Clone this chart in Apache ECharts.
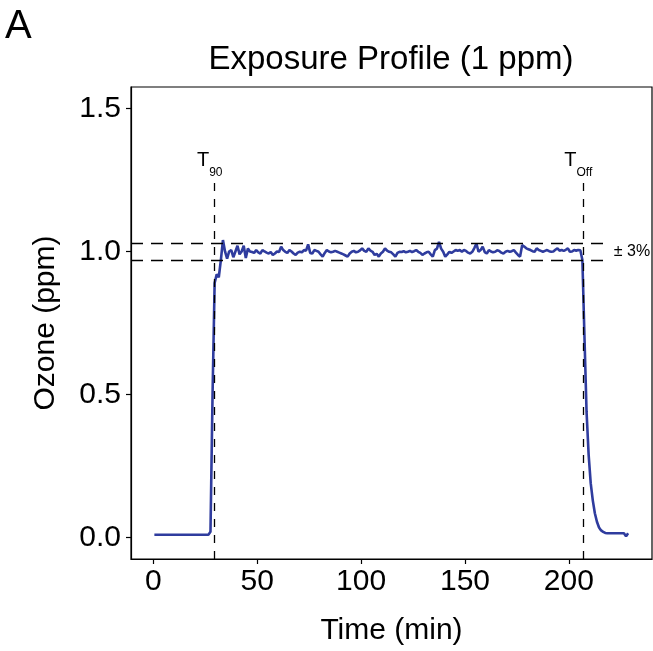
<!DOCTYPE html>
<html><head><meta charset="utf-8">
<script src="https://cdn.jsdelivr.net/npm/echarts@6/dist/echarts.min.js"></script>
<style>html,body{margin:0;padding:0;background:#fff}#chart{width:653px;height:651px}</style>
</head><body><div id="chart"></div>
<script>
const panelTitle = 'Exposure Profile (1 ppm)';
const panelTag = 'A';
const xAxisTitle = 'Time (min)';
const yAxisTitle = 'Ozone (ppm)';
const timeTicks = [0, 50, 100, 150, 200];
const ozoneTicks = [0, 0.5, 1.0, 1.5];
const timeRange = [-10.75, 240];
const ozoneRange = [-0.075, 1.575];
const sampleStartMin = 0.5;
const sampleStepMin = 1;
const ozonePpm = [
  0.01,0.01,0.01,0.01,0.01,0.01,0.01,0.01,0.01,0.01,
  0.01,0.01,0.01,0.01,0.01,0.01,0.01,0.01,0.01,0.01,
  0.01,0.01,0.01,0.01,0.01,0.01,0.01,
  0.02,0.50,0.89,
  0.92,0.91,0.97,1.04,1.00,0.975,1.00,1.005,0.98,1.00,
  1.02,0.99,1.00,1.02,0.977,1.01,1.00,0.998,0.995,1.005,
  0.997,0.993,1.005,1.00,0.996,0.993,0.998,0.988,0.993,1.00,
  0.998,1.017,1.005,0.999,0.995,1.005,1.00,0.993,0.988,0.996,
  0.999,0.997,1.005,1.003,1.025,0.995,0.993,1.005,1.002,0.999,
  0.99,0.982,0.995,1.005,1.00,0.997,0.999,1.002,0.999,0.996,
  0.993,0.99,0.986,0.982,0.993,0.999,1.002,0.997,0.999,1.004,
  1.011,1.002,0.999,1.011,1.003,0.999,0.988,0.992,0.982,0.993,
  0.999,1.011,1.003,0.999,0.997,0.99,0.982,0.995,0.999,0.998,
  1.001,0.997,0.999,1.002,0.998,1.001,1.005,0.999,0.995,0.988,
  0.993,0.997,0.999,0.99,0.982,1.005,1.01,1.034,1.01,0.999,
  0.982,0.99,0.999,0.995,1.00,1.005,1.002,1.005,0.999,1.005,
  1.002,0.996,0.993,0.999,1.012,1.028,0.999,1.005,1.017,0.998,
  0.993,1.005,1.00,0.997,0.999,1.004,1.002,0.996,0.993,0.999,
  1.002,0.999,1.001,1.005,0.996,0.988,0.982,1.022,1.017,1.011,
  1.008,1.005,1.001,0.999,1.011,1.005,1.002,0.999,1.002,1.005,
  1.001,0.999,1.000,1.006,1.011,1.003,1.005,1.002,1.006,1.011,
  0.999,1.000,1.005,1.003,1.005,1.004,0.97,0.70,0.44,0.29,
  0.19,0.13,0.085,0.055,0.035,0.025,0.02,0.016,0.015,0.015,
  0.015,0.015,0.015,0.015,0.015,0.015,0.015,0.004,0.015
];
const toleranceBand = [0.97, 1.03];
const toleranceLabel = '± 3%';
const toleranceLabelAt = [221.6, 1.001];
const bandEndMin = 218.6;
const markerTimes = [29.3, 206.7];
const markerSubs = ['90', 'Off'];
const markerTop = 1.245;
const markerLabelLevel = 1.305;

const FONT = "'Liberation Sans', Arial, Helvetica, sans-serif";
const LINE_COLOR = '#2f3c9e';

const seriesData = ozonePpm.map((v, i) => [sampleStartMin + i * sampleStepMin, v]);

const hLines = toleranceBand.map(v => [
  {coord: [timeRange[0], v], lineStyle: {type: [12, 8], color: '#000', width: 1.3}},
  {coord: [bandEndMin, v]}
]);
const vLines = markerTimes.map(t => [
  {coord: [t, ozoneRange[0]], lineStyle: {type: [8, 8], color: '#000', width: 1.3}},
  {coord: [t, markerTop]}
]);

const markerLabels = markerTimes.map((t, k) => ({
  coord: [t, markerLabelLevel],
  symbol: 'circle', symbolSize: 0,
  itemStyle: {color: 'rgba(0,0,0,0)'},
  label: {
    show: true, position: 'inside', offset: [-4.5, 0],
    formatter: '{t|T}{s|' + markerSubs[k] + '}',
    rich: {
      t: {fontSize: 20, lineHeight: 28, verticalAlign: 'top', fontFamily: FONT, color: '#000'},
      s: {fontSize: 12, lineHeight: 12, verticalAlign: 'bottom', fontFamily: FONT, color: '#000'}
    }
  }
}));
markerLabels.push({
  coord: toleranceLabelAt,
  symbol: 'circle', symbolSize: 0,
  itemStyle: {color: 'rgba(0,0,0,0)'},
  label: {show: true, position: [0, 0], align: 'left', verticalAlign: 'middle',
    formatter: toleranceLabel, fontSize: 16, fontFamily: FONT, color: '#000'}
});

const chart = echarts.init(document.getElementById('chart'), null, {renderer: 'canvas'});
chart.setOption({
  animation: false,
  backgroundColor: '#fff',
  grid: {left: 131, top: 87, width: 521, height: 475, show: true, borderColor: '#000', borderWidth: 1.2, backgroundColor: '#fff'},
  graphic: [
    {type: 'text', left: 5, top: 7, style: {text: panelTag, fontSize: 40, fontFamily: FONT, fill: '#000'}},
    {type: 'text', x: 391, y: 60, style: {text: panelTitle, fontSize: 33, fontFamily: FONT, fill: '#000', textAlign: 'center', textVerticalAlign: 'middle'}}
  ],
  xAxis: {
    type: 'value', min: timeRange[0], max: timeRange[1],
    splitLine: {show: false},
    axisLine: {show: true, onZero: false, lineStyle: {color: '#000', width: 1.2}},
    axisTick: {show: true, length: 5, customValues: timeTicks, lineStyle: {color: '#000', width: 1.2}},
    axisLabel: {customValues: timeTicks, fontSize: 30, color: '#000', fontFamily: FONT, margin: 8},
    name: xAxisTitle, nameLocation: 'middle', nameGap: 57,
    nameTextStyle: {fontSize: 30, color: '#000', fontFamily: FONT}
  },
  yAxis: {
    type: 'value', min: ozoneRange[0], max: ozoneRange[1],
    splitLine: {show: false},
    axisLine: {show: true, onZero: false, lineStyle: {color: '#000', width: 1.2}},
    axisTick: {show: true, length: 5, customValues: ozoneTicks, lineStyle: {color: '#000', width: 1.2}},
    axisLabel: {customValues: ozoneTicks, fontSize: 30, color: '#000', fontFamily: FONT, margin: 10,
      formatter: v => v.toFixed(1)},
    name: yAxisTitle, nameLocation: 'middle', nameGap: 70,
    nameTextStyle: {fontSize: 30, color: '#000', fontFamily: FONT}
  },
  series: [{
    type: 'line', data: seriesData, showSymbol: false, z: 3,
    lineStyle: {color: LINE_COLOR, width: 2.6},
    itemStyle: {color: LINE_COLOR},
    markLine: {silent: true, symbol: ['none', 'none'], label: {show: false}, data: hLines.concat(vLines)},
    markPoint: {silent: true, data: markerLabels}
  }]
});
</script></body></html>
